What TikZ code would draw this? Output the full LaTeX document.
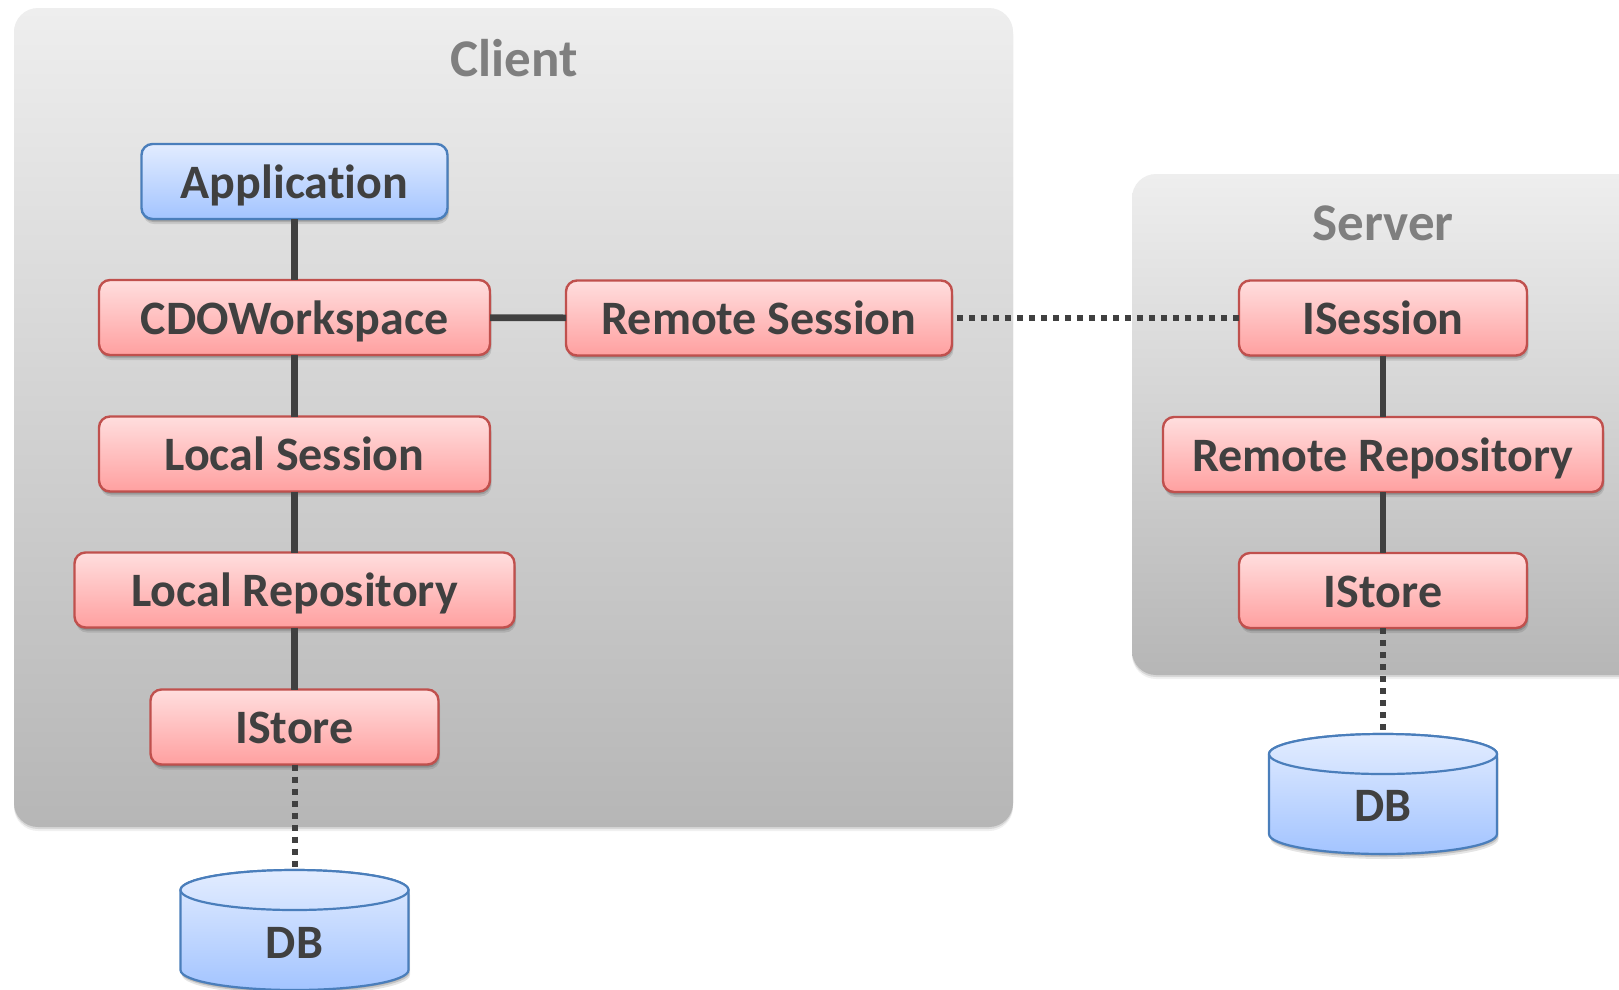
\documentclass[tikz,border=0pt]{standalone}
\usepackage{fontspec}
\setmainfont[Ligatures={NoCommon}]{Carlito}
\usetikzlibrary{shadows,positioning}
\definecolor{ink}{HTML}{404040}
\definecolor{titlegray}{HTML}{7F7F7F}
\definecolor{redline}{HTML}{C0504D}
\definecolor{blueline}{HTML}{4A7EBB}
\definecolor{redtop}{HTML}{FFDEDE}
\definecolor{redbot}{HTML}{FFA0A0}
\definecolor{bluetop}{HTML}{E2ECFF}
\definecolor{bluebot}{HTML}{A3C4FF}
\definecolor{grouptop}{HTML}{EEEEEE}
\definecolor{groupbot}{HTML}{B6B6B6}
\tikzset{
  softshadow/.style={
    drop shadow={shadow xshift=0pt,shadow yshift=-1.5pt,opacity=.14,fill=black},
    drop shadow={shadow xshift=1pt,shadow yshift=-3pt,opacity=.14,fill=black},
    drop shadow={shadow xshift=1.5pt,shadow yshift=-5pt,opacity=.10,fill=black}},
  groupbox/.style={draw=none,rounded corners=24pt,top color=grouptop,bottom color=groupbot,
    drop shadow={shadow xshift=0pt,shadow yshift=-2pt,opacity=.10,fill=black},
    drop shadow={shadow xshift=0pt,shadow yshift=-4pt,opacity=.06,fill=black},
    inner sep=0pt,outer sep=0pt},
  comp/.style={rounded corners=11pt,line width=2.4pt,inner sep=0pt,outer sep=0pt,align=center,
    text=ink,font=\fontsize{48}{52}\selectfont\bfseries,text height=33pt,text depth=0pt,softshadow},
  redbox/.style={comp,draw=redline,top color=redtop,bottom color=redbot},
  bluebox/.style={comp,draw=blueline,top color=bluetop,bottom color=bluebot},
  grouptitle/.style={text=titlegray,font=\fontsize{53}{58}\selectfont\bfseries,inner sep=0pt},
  solidlink/.style={draw=ink,line width=6.6pt},
  dotlink/.style={draw=ink,line width=6pt,dash pattern=on 6pt off 6pt},
  dbbody/.style={draw=blueline,line width=2.2pt,top color=bluetop,bottom color=bluebot,softshadow},
  dblid/.style={draw=blueline,line width=2.2pt,top color=bluetop,bottom color=bluetop!70!bluebot},
  dblabel/.style={text=ink,font=\fontsize{48}{52}\selectfont\bfseries,inner sep=0pt,text height=30pt,text depth=0pt},
}
\begin{document}
\begin{tikzpicture}[x=1pt,y=-1pt]
\useasboundingbox (0,0) rectangle (1619,989);
\clip (0,0) rectangle (1619,989);
\fill[white] (0,0) rectangle (1619,989);
% groups
\node[groupbox,minimum width=999pt,minimum height=819pt] (client) at (513.5,417.5) {};
\node[groupbox,minimum width=520pt,minimum height=501pt,anchor=north west] (server) at (1132,174) {};
\node[grouptitle] (clientT) at (514,58) {Client};
\node[grouptitle] (serverT) at (1383,223.5) {Server};
% boxes
\node[bluebox,minimum width=306pt,minimum height=75pt] (app) at (294.5,181.5) {Application};
\node[redbox,minimum width=391pt,minimum height=75pt] (wks) at (294.5,317.5) {CDOWorkspace};
\node[redbox,minimum width=386pt,minimum height=75pt] (rs) at (759,318) {Remote Session};
\node[redbox,minimum width=391pt,minimum height=75pt] (ls) at (294.5,454) {Local Session};
\node[redbox,minimum width=440pt,minimum height=75pt] (lr) at (294.5,590) {Local Repository};
\node[redbox,minimum width=288pt,minimum height=75pt] (cst) at (294.5,727) {IStore};
\node[redbox,minimum width=288pt,minimum height=75pt] (ises) at (1383,318) {ISession};
\node[redbox,minimum width=440pt,minimum height=75pt] (rr) at (1383,454.5) {Remote Repository};
\node[redbox,minimum width=288pt,minimum height=75pt] (sst) at (1383,590.5) {IStore};
% cylinders
\path[dbbody] (180.5,890) -- (180.5,970) arc[start angle=180,end angle=0,x radius=114,y radius=20] -- (408.5,890) arc[start angle=0,end angle=180,x radius=114,y radius=-20] -- cycle;
\path[dblid] (294.5,890) ellipse[x radius=114,y radius=20];
\coordinate (cdbtop) at (294.5,870);
\node[dblabel] (cdb) at (294.5,943) {DB};
\path[dbbody] (1269,754) -- (1269,834) arc[start angle=180,end angle=0,x radius=114,y radius=20] -- (1497,754) arc[start angle=0,end angle=180,x radius=114,y radius=-20] -- cycle;
\path[dblid] (1383,754) ellipse[x radius=114,y radius=20];
\coordinate (sdbtop) at (1383,734);
\node[dblabel] (sdb) at (1383,806) {DB};
% connectors
\draw[solidlink] (app) -- (wks);
\draw[solidlink] (wks) -- (ls);
\draw[solidlink] (ls) -- (lr);
\draw[solidlink] (lr) -- (cst);
\draw[solidlink] (wks) -- (rs);
\draw[solidlink] (ises) -- (rr);
\draw[solidlink] (rr) -- (sst);
\draw[dotlink] (cst) -- (cdbtop);
\draw[dotlink] (sst) -- (sdbtop);
\draw[dotlink,shorten <=5pt] (rs) -- (ises);
\end{tikzpicture}
\end{document}
